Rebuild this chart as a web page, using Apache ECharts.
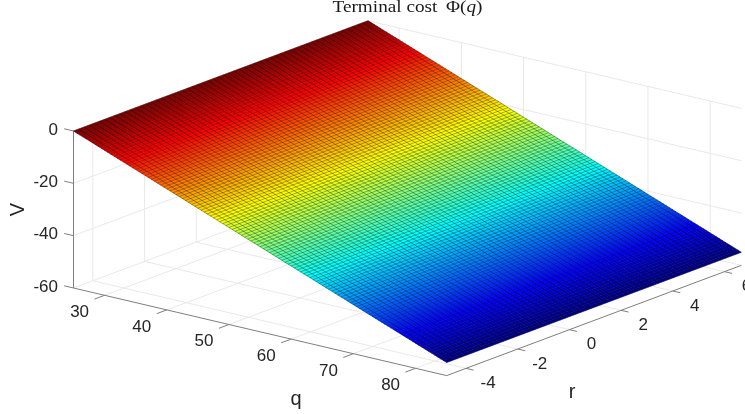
<!DOCTYPE html>
<html><head><meta charset="utf-8">
<style>html,body{margin:0;padding:0;background:#fff}#c{width:745px;height:414px}</style>
<script src="https://cdn.jsdelivr.net/npm/echarts@6/dist/echarts.min.js"></script>
</head><body><div id="c"></div>
<script>
// ---- data ----
const qGrid = [25,25.5,26,26.5,27,27.5,28,28.5,29,29.5,30,30.5,31,31.5,32,32.5,33,33.5,34,34.5,35,35.5,36,36.5,37,37.5,38,38.5,39,39.5,40,40.5,41,41.5,42,42.5,43,43.5,44,44.5,45,45.5,46,46.5,47,47.5,48,48.5,49,49.5,50,50.5,51,51.5,52,52.5,53,53.5,54,54.5,55,55.5,56,56.5,57,57.5,58,58.5,59,59.5,60,60.5,61,61.5,62,62.5,63,63.5,64,64.5,65,65.5,66,66.5,67,67.5,68,68.5,69,69.5,70,70.5,71,71.5,72,72.5,73,73.5,74,74.5,75,75.5,76,76.5,77,77.5,78,78.5,79,79.5,80,80.5,81,81.5,82,82.5,83,83.5,84,84.5,85];
const vByQ = [0,-0.46,-0.92,-1.38,-1.83,-2.29,-2.75,-3.21,-3.67,-4.13,-4.58,-5.04,
-5.5,-5.96,-6.42,-6.88,-7.33,-7.79,-8.25,-8.71,-9.17,-9.63,-10.08,-10.54,
-11,-11.46,-11.92,-12.38,-12.83,-13.29,-13.75,-14.21,-14.67,-15.13,-15.58,-16.04,
-16.5,-16.96,-17.42,-17.88,-18.33,-18.79,-19.25,-19.71,-20.17,-20.63,-21.08,-21.54,
-22,-22.46,-22.92,-23.38,-23.83,-24.29,-24.75,-25.21,-25.67,-26.13,-26.58,-27.04,
-27.5,-27.96,-28.42,-28.88,-29.33,-29.79,-30.25,-30.71,-31.17,-31.63,-32.08,-32.54,
-33,-33.46,-33.92,-34.38,-34.83,-35.29,-35.75,-36.21,-36.67,-37.13,-37.58,-38.04,
-38.5,-38.96,-39.42,-39.88,-40.33,-40.79,-41.25,-41.71,-42.17,-42.63,-43.08,-43.54,
-44,-44.46,-44.92,-45.38,-45.83,-46.29,-46.75,-47.21,-47.67,-48.13,-48.58,-49.04,
-49.5,-49.96,-50.42,-50.88,-51.33,-51.79,-52.25,-52.71,-53.17,-53.63,-54.08,-54.54,-55];
const rGrid = [-4.75,-4.55,-4.35,-4.15,-3.95,-3.75,-3.55,-3.35,-3.15,-2.95,-2.75,-2.55,-2.35,-2.15,-1.95,-1.75,-1.55,-1.35,-1.15,-0.95,-0.75,-0.55,-0.35,-0.15,0.05,0.25,0.45,0.65,0.85,1.05,1.25,1.45,1.65,1.85,2.05,2.25,2.45,2.65,2.85,3.05,3.25,3.45,3.65,3.85,4.05,4.25,4.45,4.65,4.85,5.05,5.25,5.45,5.65,5.85,6.05,6.25,6.45,6.65];
const qTicks = [30,40,50,60,70,80];
const rTicks = [-4,-2,0,2,4,6];
const vTicks = [0,-20,-40,-60];
const qRange = [25,85], rRange = [-4.75,6.65], vRange = [-60,0];
const jetStops = [[0,'#000080'],[0.125,'#0000ff'],[0.375,'#00ffff'],[0.625,'#ffff00'],[0.875,'#ff0000'],[1,'#800000']];

// ---- view (fixed orthographic 3D view -> plane of the hidden axes) ----
const view = {x0:73.5,y0:288,qx:6.22,qy:1.46,rx:25.84,ry:-9.67,vy:-2.617};
function proj(q,r,v){
  return [view.x0+(q-qRange[0])*view.qx+(r-rRange[0])*view.rx,
          view.y0+(q-qRange[0])*view.qy+(r-rRange[0])*view.ry+(v-vRange[0])*view.vy];
}
function hex(c){return [1,3,5].map(i=>parseInt(c.substr(i,2),16));}
function jet(t){
  t=Math.max(0,Math.min(1,t));
  for(let i=1;i<jetStops.length;i++){
    if(t<=jetStops[i][0]){
      const a=jetStops[i-1],b=jetStops[i],f=(t-a[0])/(b[0]-a[0]),A=hex(a[1]),B=hex(b[1]);
      return 'rgb('+A.map((x,k)=>Math.round(x+(B[k]-x)*f)).join(',')+')';
    }
  }
  return jetStops[jetStops.length-1][1];
}
const vMin=vByQ[vByQ.length-1], vMax=vByQ[0];
const [qa,qb]=qRange,[ra,rb]=rRange,[va,vb]=vRange;

// colour bands (one facet colour per q step) and the mesh lines drawn over them
const bands=[];
for(let i=0;i<qGrid.length-1;i++) bands.push(i);
const mesh=[];
qGrid.forEach((q,i)=>mesh.push([q,ra,vByQ[i],q,rb,vByQ[i]]));
rGrid.forEach(r=>{
  for(let i=0;i<qGrid.length-1;i++) mesh.push([qGrid[i],r,vByQ[i],qGrid[i+1],r,vByQ[i+1]]);
});

// lines: [q1,r1,v1,q2,r2,v2,kind]
const lines=[];
rTicks.forEach(r=>{lines.push([qa,r,va,qb,r,va,0]);lines.push([qa,r,va,qa,r,vb,0]);});
qTicks.forEach(q=>{lines.push([q,ra,va,q,rb,va,0]);lines.push([q,rb,va,q,rb,vb,0]);});
vTicks.forEach(v=>{lines.push([qa,ra,v,qa,rb,v,0]);lines.push([qa,rb,v,qb,rb,v,0]);});
lines.push([qa,ra,va,qa,ra,vb,1]);
lines.push([qa,ra,va,qb,ra,va,1]);
lines.push([qb,ra,va,qb,rb,va,1]);
vTicks.forEach(v=>lines.push([qa,ra,v,qa-1.5,ra,v,1]));
qTicks.forEach(q=>lines.push([q,ra,va,q,ra-0.39,va,1]));
rTicks.forEach(r=>lines.push([qb,r,va,qb+1.2,r,va,1]));

// texts: [q,r,v,dx,dy,text,size,rotate,align]
const labels=[];
vTicks.forEach(v=>labels.push([qa,ra,v,-15.5,-1,String(v),17,0,'right']));
qTicks.forEach(q=>labels.push([q,ra,va,-25,17.2,String(q),17,0,'center']));
rTicks.forEach(r=>labels.push([qb,r,va,22,15,String(r),17,0,'center']));
labels.push([55,ra,va,36,68,'q',20,0,'center']);
labels.push([qb,0.1,va,0,64,'r',20,0,'center']);
labels.push([qa,ra,-30,-55,0,'V',20,Math.PI/2,'center']);

const lineItem=(d,api,style)=>{
  const a=api.coord(proj(d[0],d[1],d[2])),b=api.coord(proj(d[3],d[4],d[5]));
  return {type:'line',shape:{x1:a[0],y1:a[1],x2:b[0],y2:b[1]},style};
};

const chart=echarts.init(document.getElementById('c'),null,{renderer:'canvas'});
chart.setOption({
  animation:false,
  backgroundColor:'#fff',
  graphic:[{type:'text',x:407.5,y:7.5,scaleX:1.13,z:10,silent:true,
    style:{text:'{a|Terminal cost \u2009Φ(}{b|q}{a|)}',align:'center',verticalAlign:'middle',
      rich:{a:{fontFamily:'Liberation Serif',fontSize:17,fill:'#1a1a1a'},
            b:{fontFamily:'Liberation Serif',fontSize:17,fontStyle:'italic',fill:'#1a1a1a'}}}}],
  grid:{left:0,right:0,top:0,bottom:0},
  xAxis:{type:'value',min:0,max:745,show:false},
  yAxis:{type:'value',min:0,max:414,inverse:true,show:false},
  series:[
    {type:'custom',coordinateSystem:'cartesian2d',silent:true,clip:false,z:1,data:lines,encode:{x:[],y:[]},
     renderItem:(p,api)=>{
       const d=lines[p.dataIndex];
       return lineItem(d,api,d[6]?{stroke:'#7f7f7f',lineWidth:1,fill:null}:{stroke:'#e9e9e9',lineWidth:1,fill:null});
     }},
    {type:'custom',coordinateSystem:'cartesian2d',silent:true,clip:false,z:2,data:bands,progressive:0,encode:{x:[],y:[]},
     renderItem:(p,api)=>{
       const i=bands[p.dataIndex];
       const q0=qGrid[i],q1=qGrid[i+1],v0=vByQ[i],v1=vByQ[i+1];
       const pts=[proj(q0,ra,v0),proj(q1,ra,v1),proj(q1,rb,v1),proj(q0,rb,v0)].map(x=>api.coord(x));
       const c=jet((v0-vMin)/(vMax-vMin));
       return {type:'polygon',shape:{points:pts},style:{fill:c,stroke:c,lineWidth:0.4}};
     }},
    {type:'custom',coordinateSystem:'cartesian2d',silent:true,clip:false,z:3,data:mesh,progressive:0,encode:{x:[],y:[]},
     renderItem:(p,api)=>lineItem(mesh[p.dataIndex],api,{stroke:'rgba(0,0,0,0.68)',lineWidth:0.5,fill:null})},
    {type:'custom',coordinateSystem:'cartesian2d',silent:true,clip:false,z:4,data:labels,encode:{x:[],y:[]},
     renderItem:(p,api)=>{
       const d=labels[p.dataIndex];
       const a=api.coord(proj(d[0],d[1],d[2]));
       const x=a[0]+d[3],y=a[1]+d[4];
       return {type:'text',x:x,y:y,rotation:d[7],
         style:{text:d[5],x:0,y:0,align:d[8],verticalAlign:'middle',fill:'#262626',
           font:d[6]+'px "Liberation Sans"'}};
     }}
  ]
});
</script></body></html>
